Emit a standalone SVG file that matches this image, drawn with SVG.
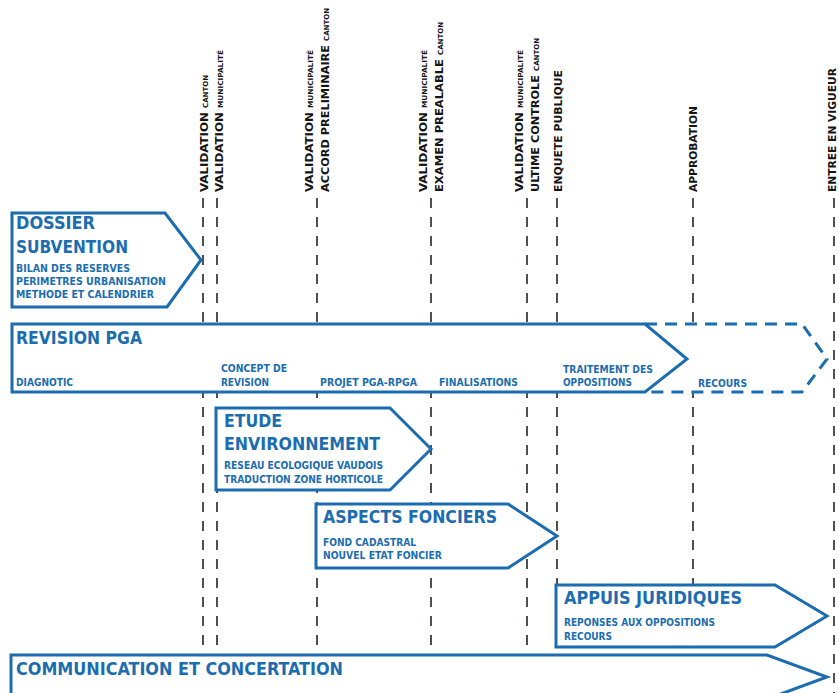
<svg xmlns="http://www.w3.org/2000/svg" width="839" height="693" viewBox="0 0 839 693">
  <style>
    .milestone { stroke: #4d524d; stroke-width: 2; stroke-dasharray: 10 9; fill: none; }
    .box { fill: #ffffff; stroke: #1b6db0; stroke-width: 3; stroke-linejoin: miter; }
    .box-dashed { fill: #ffffff; stroke: #1b6db0; stroke-width: 3; stroke-dasharray: 12 8; }
    text { font-family: "DejaVu Sans Condensed", "DejaVu Sans", "Liberation Sans", sans-serif; font-weight: bold; font-stretch: condensed; }
    .title { fill: #1b6db0; font-size: 17px; }
    .item { fill: #1b6db0; font-size: 10px; }
    .vb { fill: #151515; font-size: 11px; }
    .vs { fill: #151515; font-size: 7px; }
  </style>
  <rect width="839" height="693" fill="#ffffff"/>

  <!-- milestone lines -->
  <g id="connectors">
    <line class="milestone" x1="203" y1="198" x2="203" y2="693"/>
    <line class="milestone" x1="217" y1="198" x2="217" y2="693"/>
    <line class="milestone" x1="317" y1="198" x2="317" y2="693"/>
    <line class="milestone" x1="431" y1="198" x2="431" y2="693"/>
    <line class="milestone" x1="527" y1="198" x2="527" y2="693"/>
    <line class="milestone" x1="557" y1="198" x2="557" y2="693"/>
    <line class="milestone" x1="693" y1="198" x2="693" y2="693"/>
    <line class="milestone" x1="834" y1="198" x2="834" y2="693"/>
  </g>

  <!-- vertical milestone labels -->
  <g id="milestone-labels">
    <g transform="translate(208,192) rotate(-90)">
      <text class="vb" textLength="80" lengthAdjust="spacingAndGlyphs">VALIDATION</text>
      <text class="vs" x="84" textLength="33" lengthAdjust="spacingAndGlyphs">CANTON</text>
    </g>
    <g transform="translate(223,192) rotate(-90)">
      <text class="vb" textLength="80" lengthAdjust="spacingAndGlyphs">VALIDATION</text>
      <text class="vs" x="84" textLength="58" lengthAdjust="spacingAndGlyphs">MUNICIPALITÉ</text>
    </g>
    <g transform="translate(313,192) rotate(-90)">
      <text class="vb" textLength="80" lengthAdjust="spacingAndGlyphs">VALIDATION</text>
      <text class="vs" x="84" textLength="58" lengthAdjust="spacingAndGlyphs">MUNICIPALITÉ</text>
    </g>
    <g transform="translate(329,192) rotate(-90)">
      <text class="vb" textLength="147" lengthAdjust="spacingAndGlyphs">ACCORD PRELIMINAIRE</text>
      <text class="vs" x="151" textLength="33" lengthAdjust="spacingAndGlyphs">CANTON</text>
    </g>
    <g transform="translate(427,192) rotate(-90)">
      <text class="vb" textLength="80" lengthAdjust="spacingAndGlyphs">VALIDATION</text>
      <text class="vs" x="84" textLength="58" lengthAdjust="spacingAndGlyphs">MUNICIPALITÉ</text>
    </g>
    <g transform="translate(443,192) rotate(-90)">
      <text class="vb" textLength="133" lengthAdjust="spacingAndGlyphs">EXAMEN PREALABLE</text>
      <text class="vs" x="137" textLength="33" lengthAdjust="spacingAndGlyphs">CANTON</text>
    </g>
    <g transform="translate(523,192) rotate(-90)">
      <text class="vb" textLength="80" lengthAdjust="spacingAndGlyphs">VALIDATION</text>
      <text class="vs" x="84" textLength="58" lengthAdjust="spacingAndGlyphs">MUNICIPALITÉ</text>
    </g>
    <g transform="translate(539,192) rotate(-90)">
      <text class="vb" textLength="117" lengthAdjust="spacingAndGlyphs">ULTIME CONTROLE</text>
      <text class="vs" x="121" textLength="33" lengthAdjust="spacingAndGlyphs">CANTON</text>
    </g>
    <g transform="translate(562,192) rotate(-90)">
      <text class="vb" textLength="122" lengthAdjust="spacingAndGlyphs">ENQUETE PUBLIQUE</text>
    </g>
    <g transform="translate(697,192) rotate(-90)">
      <text class="vb" textLength="86" lengthAdjust="spacingAndGlyphs">APPROBATION</text>
    </g>
    <g transform="translate(836,192) rotate(-90)">
      <text class="vb" textLength="124" lengthAdjust="spacingAndGlyphs">ENTREE EN VIGUEUR</text>
    </g>
  </g>

  <!-- work packages -->
  <g id="dossier-subvention">
    <path class="box" d="M12,213 H165 L201,260 L167,307 H12 Z"/>
    <text class="title" x="16" y="229" textLength="79" lengthAdjust="spacingAndGlyphs">DOSSIER</text>
    <text class="title" x="16" y="253" textLength="112" lengthAdjust="spacingAndGlyphs">SUBVENTION</text>
    <text class="item" x="16" y="272" textLength="114" lengthAdjust="spacingAndGlyphs">BILAN DES RESERVES</text>
    <text class="item" x="16" y="285" textLength="150" lengthAdjust="spacingAndGlyphs">PERIMETRES URBANISATION</text>
    <text class="item" x="16" y="298" textLength="138" lengthAdjust="spacingAndGlyphs">METHODE ET CALENDRIER</text>
  </g>

  <g id="revision-pga">
    <path class="box-dashed" d="M645,324 H802 L827,359 L802,392 H645"/>
    <path class="box" d="M645,324 H12 V392 H645 L687,359 Z"/>
    <text class="title" x="16" y="344" textLength="126" lengthAdjust="spacingAndGlyphs">REVISION PGA</text>
    <text class="item" x="16" y="386" textLength="57" lengthAdjust="spacingAndGlyphs">DIAGNOTIC</text>
    <text class="item" x="221" y="372" textLength="66" lengthAdjust="spacingAndGlyphs">CONCEPT DE</text>
    <text class="item" x="221" y="386" textLength="48" lengthAdjust="spacingAndGlyphs">REVISION</text>
    <text class="item" x="320" y="386" textLength="97" lengthAdjust="spacingAndGlyphs">PROJET PGA-RPGA</text>
    <text class="item" x="439" y="386" textLength="79" lengthAdjust="spacingAndGlyphs">FINALISATIONS</text>
    <text class="item" x="563" y="373" textLength="90" lengthAdjust="spacingAndGlyphs">TRAITEMENT DES</text>
    <text class="item" x="563" y="386" textLength="69" lengthAdjust="spacingAndGlyphs">OPPOSITIONS</text>
    <text class="item" x="698" y="387" textLength="49" lengthAdjust="spacingAndGlyphs">RECOURS</text>
  </g>

  <g id="etude-environnement">
    <path class="box" d="M216,408 H390 L431,449 L390,490 H216 Z"/>
    <text class="title" x="224" y="427" textLength="58" lengthAdjust="spacingAndGlyphs">ETUDE</text>
    <text class="title" x="224" y="450" textLength="156" lengthAdjust="spacingAndGlyphs">ENVIRONNEMENT</text>
    <text class="item" x="224" y="469" textLength="159" lengthAdjust="spacingAndGlyphs">RESEAU ECOLOGIQUE VAUDOIS</text>
    <text class="item" x="224" y="483" textLength="159" lengthAdjust="spacingAndGlyphs">TRADUCTION ZONE HORTICOLE</text>
  </g>

  <g id="aspects-fonciers">
    <path class="box" d="M316,504 H508 L557,536 L508,568 H316 Z"/>
    <text class="title" x="323" y="523" textLength="174" lengthAdjust="spacingAndGlyphs">ASPECTS FONCIERS</text>
    <text class="item" x="323" y="546" textLength="93" lengthAdjust="spacingAndGlyphs">FOND CADASTRAL</text>
    <text class="item" x="323" y="559" textLength="119" lengthAdjust="spacingAndGlyphs">NOUVEL ETAT FONCIER</text>
  </g>

  <g id="appuis-juridiques">
    <path class="box" d="M556,585 H775 L827,616 L775,647 H556 Z"/>
    <text class="title" x="564" y="604" textLength="178" lengthAdjust="spacingAndGlyphs">APPUIS JURIDIQUES</text>
    <text class="item" x="564" y="626" textLength="151" lengthAdjust="spacingAndGlyphs">REPONSES AUX OPPOSITIONS</text>
    <text class="item" x="564" y="640" textLength="48" lengthAdjust="spacingAndGlyphs">RECOURS</text>
  </g>

  <g id="communication-concertation">
    <path class="box" d="M11,655 H767 L827,677 L767,699 H11 Z"/>
    <text class="title" x="16" y="675" textLength="327" lengthAdjust="spacingAndGlyphs">COMMUNICATION ET CONCERTATION</text>
  </g>
</svg>
